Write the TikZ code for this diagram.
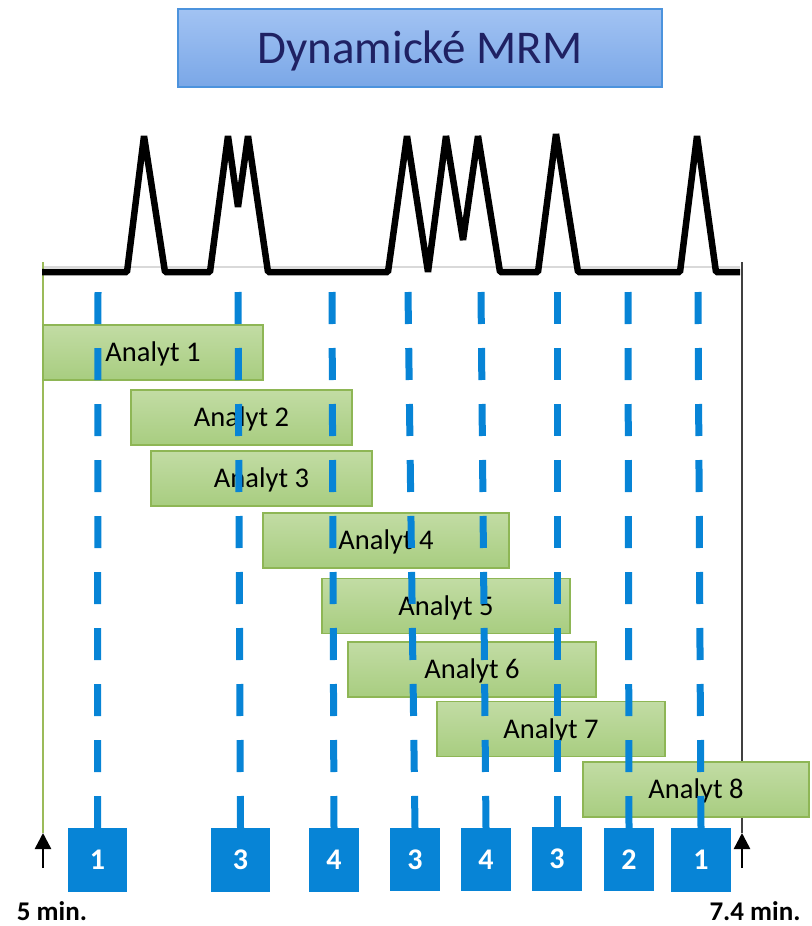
\documentclass[tikz,border=0pt]{standalone}
\usepackage{fontspec}
\setmainfont{Carlito}
\usetikzlibrary{arrows.meta}
\definecolor{mrmblue}{HTML}{0784D6}
\definecolor{bartop}{HTML}{C2DCA4}
\definecolor{barbot}{HTML}{A8CD80}
\definecolor{barline}{HTML}{8EB655}
\definecolor{titletop}{HTML}{A2C3F3}
\definecolor{titlebot}{HTML}{7AA7E7}
\definecolor{titleline}{HTML}{4C93DD}
\definecolor{titletext}{HTML}{1F2163}
\definecolor{axisgray}{HTML}{D9D9D9}
\definecolor{guide}{HTML}{9BBB59}
\begin{document}
\begin{tikzpicture}[x=1pt,y=-1pt,
  titlebox/.style={draw=titleline, line width=1.2pt, top color=titletop, bottom color=titlebot,
    minimum width=484pt, minimum height=78pt, inner sep=0pt, text=titletext,
    font=\fontsize{47}{56}\selectfont, text height=30.3pt, text depth=0pt},
  analyte/.style={draw=barline, line width=1.5pt, top color=bartop, bottom color=barbot,
    minimum height=55pt, inner sep=0pt, font=\fontsize{28.5}{34}\selectfont,
    text height=18.4pt, text depth=0pt},
  segbox/.style={fill=mrmblue, minimum height=64pt, inner sep=0pt, text=white,
    font=\bfseries\fontsize{30}{36}\selectfont, text height=19.5pt, text depth=0pt},
  window/.style={draw=mrmblue, line width=7pt, dash pattern=on 32pt off 24pt},
  trace/.style={line width=6.5pt, line join=bevel},
  timemark/.style={line width=2.5pt, -{Triangle[width=16pt,length=16pt]}},
  timelabel/.style={font=\bfseries\fontsize{27}{32}\selectfont, anchor=base}
]
\useasboundingbox (0,0) rectangle (811,926);

% title
\node[titlebox] (title) at (420,48) {Dynamické MRM};

% time axis and the two limits of the run
\draw[axisgray, line width=1.5pt] (42,267) -- (740,267);
\coordinate (starttop) at (43,262);
\coordinate (starttip) at (43,833);
\coordinate (startfoot) at (43,868);
\coordinate (endtop) at (742,262);
\coordinate (endtip) at (742,833);
\coordinate (endfoot) at (742,868);
\draw[guide, line width=1.5pt] (starttop) -- (starttip);
\draw[black!75, line width=1.5pt] (endtop) -- (endtip);

% retention windows of the analytes
\node[analyte, minimum width=220pt] (a1) at (153,352.5) {Analyt 1};
\node[analyte, minimum width=221pt] (a2) at (241.5,417.5) {Analyt 2};
\node[analyte, minimum width=221pt] (a3) at (261.5,478.5) {Analyt 3};
\node[analyte, minimum width=246pt] (a4) at (386,540.5) {Analyt 4};
\node[analyte, minimum width=248pt] (a5) at (446,606) {Analyt 5};
\node[analyte, minimum width=248pt] (a6) at (472,669.5) {Analyt 6};
\node[analyte, minimum width=228pt] (a7) at (551,729) {Analyt 7};
\node[analyte, minimum width=226pt] (a8) at (696,789.5) {Analyt 8};

% number of concurrent transitions in each segment
\node[segbox, minimum width=59pt] (s1) at (97.5,860) {1};
\node[segbox, minimum width=59pt] (s2) at (240.5,860) {3};
\node[segbox, minimum width=50pt] (s3) at (334,860) {4};
\node[segbox, minimum width=50pt, minimum height=63pt] (s4) at (415,859.5) {3};
\node[segbox, minimum width=50pt, minimum height=63pt] (s5) at (486,859.5) {4};
\node[segbox, minimum width=50pt] (s6) at (557,859) {3};
\node[segbox, minimum width=50pt, minimum height=63pt] (s7) at (629,859.5) {2};
\node[segbox, minimum width=60pt] (s8) at (701,860) {1};

% segment boundaries
\foreach \n/\x in {1/98, 2/238, 3/332, 4/408, 5/481, 6/557, 7/628, 8/698}{
  \coordinate (w\n) at (\x,292);
  \draw[window] (w\n) -- (s\n.north);
}

% chromatogram
\draw[trace] (42,272) -- (127,272) -- (144,136) -- (165,272) -- (210,272)
  -- (228,136) -- (238,207) -- (248,136) -- (268,272) -- (388,272)
  -- (407,136) -- (428,272) -- (446,136) -- (463,240) -- (478,136)
  -- (500,272) -- (538,272) -- (556,134) -- (578,272) -- (680,272)
  -- (697,136) -- (716,272) -- (740,272);

% start and end of the run
\draw[timemark] (startfoot) -- (starttip);
\draw[timemark] (endfoot) -- (endtip);
\node[timelabel] (tstart) at (52,920) {5 min.};
\node[timelabel] (tend) at (755,920) {7.4 min.};
\end{tikzpicture}
\end{document}
